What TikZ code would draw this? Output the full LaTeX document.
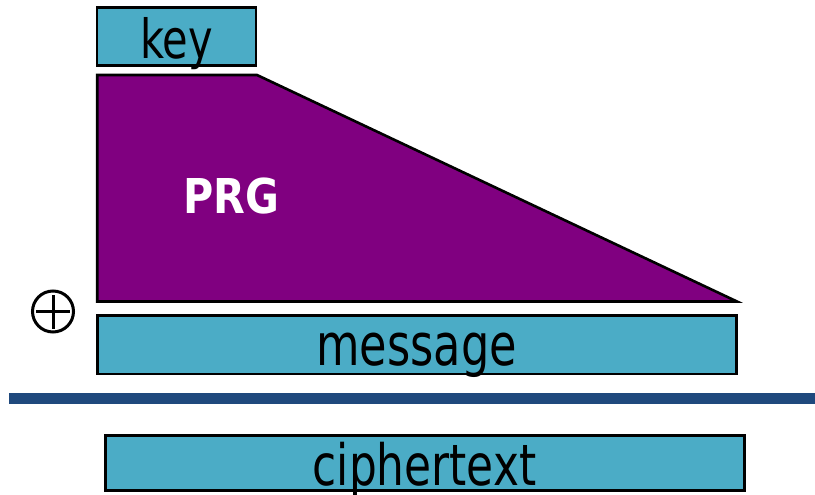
\documentclass[tikz,border=0pt]{standalone}
\usepackage{fontspec}
\newfontfamily\lblfont[FakeStretch=0.77]{DejaVu Sans}
\newfontfamily\prgfont[FakeStretch=0.86]{DejaVu Sans}
\definecolor{boxteal}{HTML}{4BACC6}
\definecolor{prgpurple}{HTML}{800080}
\definecolor{barblue}{HTML}{1F497D}
\begin{document}
\begin{tikzpicture}[x=1pt,y=-1pt,
  boxnode/.style={draw=black, line width=2.6pt, fill=boxteal, inner sep=0pt, outer sep=0pt, anchor=north west},
  lbl/.style={anchor=base, inner sep=0pt, font=\lblfont\fontsize{56}{60}\selectfont},
]
\useasboundingbox (0,0) rectangle (815,495);
% key
\node[boxnode, minimum width=159pt, minimum height=58pt] (keybox) at (97.1,7.3) {};
\node[lbl, font=\lblfont\fontsize{54}{60}\selectfont] (keytext) at (176.5,58.3) {key};
% PRG
\coordinate (p1) at (97.2,75);
\coordinate (p2) at (257,75);
\coordinate (p3) at (737,301.5);
\coordinate (p4) at (97.2,301.5);
\draw[fill=prgpurple, line width=2.6pt, line join=miter] (p1) -- (p2) -- (p3) -- (p4) -- cycle;
\node[anchor=base, inner sep=0pt, text=white, font=\prgfont\bfseries\fontsize{48}{52}\selectfont] (prgtext) at (231.5,213.3) {PRG};
% xor
\node[circle, draw=black, line width=3pt, minimum size=41pt, inner sep=0pt,
  path picture={\draw[line width=3pt] ([xshift=-17pt]path picture bounding box.center) -- ([xshift=17pt]path picture bounding box.center);
                \draw[line width=3pt] ([yshift=-17pt]path picture bounding box.center) -- ([yshift=17pt]path picture bounding box.center);}] (xor) at (53,311.5) {};
% message
\node[boxnode, minimum width=639pt, minimum height=58.7pt] (msgbox) at (97.3,315.3) {};
\node[lbl, font=\lblfont\fontsize{58}{62}\selectfont] (msgtext) at (416.5,365.7) {message};
% bar
\fill[barblue] (9,393.3) rectangle (815,404.3);
% ciphertext
\node[boxnode, minimum width=639pt, minimum height=55pt] (ctbox) at (105.3,435.6) {};
\node[lbl, font=\lblfont\fontsize{57}{62}\selectfont] (cttext) at (424.5,485) {ciphertext};
\end{tikzpicture}
\end{document}
